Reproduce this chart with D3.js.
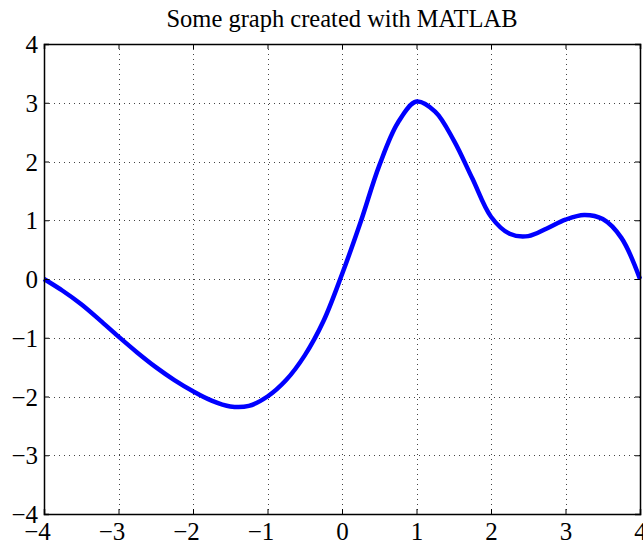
<!DOCTYPE html>
<html>
<head>
    <meta charset="utf-8">
    <script src="https://d3js.org/d3.v7.min.js"></script>
    <style>
        body { margin: 0; background: #fff; }
        text { font-family: "Liberation Serif", "Times New Roman", serif; }
    </style>
</head>
<body>
    <svg id="svg"></svg>
</body>
</html>

<script type="text/javascript">
    // curve, step 0.25
    const xs = [-4, -3.75, -3.5, -3.25, -3, -2.75, -2.5, -2.25, -2, -1.75, -1.5, -1.25, -1,
        -0.75, -0.5, -0.25, 0, 0.25, 0.5, 0.75, 1, 1.25, 1.5, 1.75, 2, 2.25, 2.5, 2.75,
        3, 3.25, 3.5, 3.75, 4];
    const ys = [0, -0.2, -0.43, -0.7, -0.98, -1.25, -1.5, -1.72, -1.91, -2.07, -2.17, -2.16, -2.0,
        -1.72, -1.3, -0.72, 0.08, 0.97, 1.93, 2.66, 3.02, 2.85, 2.36, 1.71, 1.06, 0.77, 0.73, 0.86,
        1.01, 1.09, 1.02, 0.7, 0];
    const xTicks = [-4, -3, -2, -1, 0, 1, 2, 3, 4];
    const yTicks = [-4, -3, -2, -1, 0, 1, 2, 3, 4];
    const title = "Some graph created with MATLAB";

    const width = 643, height = 544;
    const pLeft = 44, pRight = 640, pTop = 44, pBottom = 514;
    const tickFont = 25;

    const svg = d3.select("#svg")
        .attr("width", width)
        .attr("height", height);

    const x = d3.scaleLinear().domain([-4, 4]).range([pLeft, pRight]);
    const y = d3.scaleLinear().domain([-4, 4]).range([pBottom, pTop]);

    // dotted grid
    const grid = svg.append("g")
        .attr("stroke", "#444")
        .attr("stroke-width", 1)
        .attr("stroke-dasharray", "1,4");
    grid.selectAll(".vg")
        .data(xTicks.slice(1, -1))
        .enter().append("line")
        .attr("x1", d => Math.round(x(d)) + 0.5)
        .attr("x2", d => Math.round(x(d)) + 0.5)
        .attr("y1", pTop)
        .attr("y2", pBottom);
    grid.selectAll(".hg")
        .data(yTicks.slice(1, -1))
        .enter().append("line")
        .attr("x1", pLeft)
        .attr("x2", pRight)
        .attr("y1", d => Math.round(y(d)) + 0.5)
        .attr("y2", d => Math.round(y(d)) + 0.5);

    // the curve
    const line = d3.line()
        .x((d, i) => x(xs[i]))
        .y(d => y(d))
        .curve(d3.curveCatmullRom.alpha(0.5));

    svg.append("path")
        .datum(ys)
        .attr("d", line)
        .attr("fill", "none")
        .attr("stroke", "#0000ff")
        .attr("stroke-width", 4.5)
        .attr("stroke-linejoin", "round");

    // axes, ticks pointing in on all four sides
    const gb = svg.append("g")
        .attr("transform", `translate(0,${pBottom})`)
        .call(d3.axisBottom(x).tickValues(xTicks).tickSize(-5).tickPadding(0));
    const gt = svg.append("g")
        .attr("transform", `translate(0,${pTop})`)
        .call(d3.axisTop(x).tickValues(xTicks).tickSize(-5).tickFormat(""));
    const gl = svg.append("g")
        .attr("transform", `translate(${pLeft},0)`)
        .call(d3.axisLeft(y).tickValues(yTicks).tickSize(-5).tickPadding(0));
    const gr = svg.append("g")
        .attr("transform", `translate(${pRight},0)`)
        .call(d3.axisRight(y).tickValues(yTicks).tickSize(-5).tickFormat(""));

    svg.selectAll(".domain").attr("stroke", "#000").attr("stroke-width", 1.5);
    svg.selectAll(".tick line").attr("stroke", "#000");

    // minus sign hangs to the left, the digit sits on the tick
    gb.selectAll("text")
        .attr("font-size", tickFont)
        .attr("font-family", "Liberation Serif")
        .attr("fill", "#000")
        .attr("dy", null)
        .attr("y", 26)
        .attr("x", d => d < 0 ? -7 : 0);

    gl.selectAll("text")
        .attr("font-size", tickFont)
        .attr("font-family", "Liberation Serif")
        .attr("fill", "#000")
        .attr("dy", "0.34em")
        .attr("x", -6);

    svg.append("text")
        .attr("x", (pLeft + pRight) / 2)
        .attr("y", 27)
        .attr("text-anchor", "middle")
        .attr("font-size", 24.5)
        .text(title);
</script>
